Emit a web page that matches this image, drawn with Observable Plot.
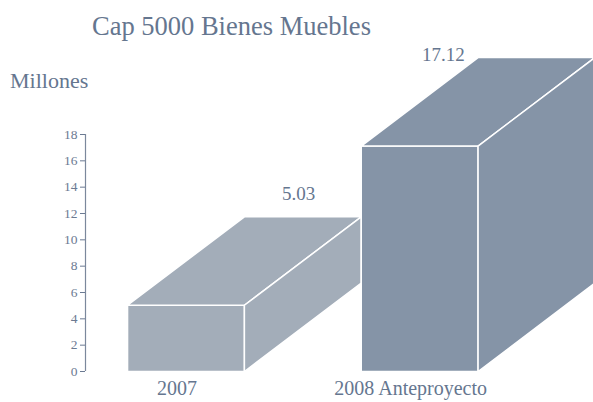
<!DOCTYPE html>
<html>
<head>
<meta charset="utf-8">
<script src="https://cdn.jsdelivr.net/npm/d3@7"></script>
<script src="https://cdn.jsdelivr.net/npm/@observablehq/plot@0.6"></script>
<style>
  html, body { margin: 0; padding: 0; background: #fff; }
  #wrap { position: relative; width: 593px; height: 402px; overflow: hidden; font-family: "Liberation Serif", serif; }
  #title { position: absolute; left: 92px; top: 13px; font-size: 26.5px; line-height: 26.5px; color: #65768f; white-space: nowrap; }
  #unit { position: absolute; left: 10px; top: 70px; font-size: 22px; line-height: 22px; color: #65768f; white-space: nowrap; }
  #chart { position: absolute; left: 0; top: 0; }
  #chart svg text { font-family: "Liberation Serif", serif; }
</style>
</head>
<body>
<div id="wrap">
  <div id="chart"></div>
  <div id="title">Cap 5000 Bienes Muebles</div>
  <div id="unit">Millones</div>
</div>
<script>
// ---- data ----
const categories = ["2007", "2008 Anteproyecto"];
const values = [5.03, 17.12];
const valueLabels = ["5.03", "17.12"];
const yTicks = [0, 2, 4, 6, 8, 10, 12, 14, 16, 18];

// ---- style / geometry constants ----
const barColors = ["#a3adb9", "#8594a7"];
const textColor = "#65768f";
const HALF = 0.25;   // half bar width (x units)
const DEPTH_X = 0.5; // 3D depth in x units
const DEPTH_Y = 6.72; // 3D depth in y units

const faces = [];
categories.forEach((c, i) => {
  const v = values[i];
  const polys = {
    front: [[i - HALF, 0], [i + HALF, 0], [i + HALF, v], [i - HALF, v]],
    top: [[i - HALF, v], [i + HALF, v], [i + HALF + DEPTH_X, v + DEPTH_Y], [i - HALF + DEPTH_X, v + DEPTH_Y]],
    side: [[i + HALF, 0], [i + HALF + DEPTH_X, DEPTH_Y], [i + HALF + DEPTH_X, v + DEPTH_Y], [i + HALF, v]]
  };
  for (const [name, pts] of Object.entries(polys)) {
    for (const [x, y] of pts) faces.push({id: `${i}-${name}`, x, y, fill: barColors[i]});
  }
});

const bars = categories.map((c, i) => ({i, category: c, value: values[i], label: valueLabels[i]}));

const chart = Plot.plot({
  width: 593,
  height: 402,
  marginLeft: 85,
  marginRight: 57,
  marginTop: 134,
  marginBottom: 31,
  style: {fontFamily: "Liberation Serif, serif", background: "transparent"},
  x: {domain: [-0.43, 1.5], axis: null},
  y: {domain: [0, 18], axis: null},
  color: {type: "identity"},
  marks: [
    Plot.ruleX([-0.43], {y1: 0, y2: 18, stroke: "#7b889c", strokeWidth: 1.2}),
    Plot.axisY({ticks: yTicks, tickSize: 5, tickPadding: 3, fontSize: 13.5, fontFamily: "Liberation Serif", color: "#6b7a92", tickFormat: d => String(d)}),
    Plot.line(faces, {x: "x", y: "y", z: "id", fill: "fill", stroke: "white", strokeWidth: 1.5, curve: "linear-closed"}),
    Plot.text(bars.filter(d => d.i === 0), {x: "i", y: "value", text: "label", dx: 112.6, dy: -105.5, lineAnchor: "bottom", fontSize: 19, fill: textColor}),
    Plot.text(bars.filter(d => d.i === 1), {x: "i", y: "value", text: "label", dx: 23.6, dy: -84.9, lineAnchor: "bottom", fontSize: 19, fill: textColor}),
    Plot.text(bars, {x: "i", y: 0, text: "category", dx: -9, dy: 23, lineAnchor: "bottom", fontSize: 20, fill: textColor})
  ]
});
document.getElementById("chart").appendChild(chart);
</script>
</body>
</html>
